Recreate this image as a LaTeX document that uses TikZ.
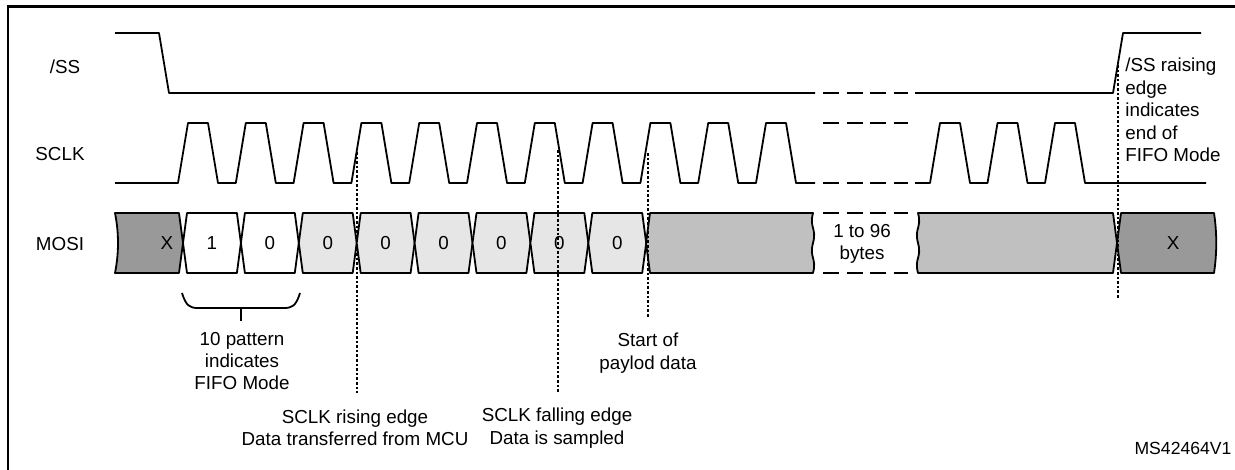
\documentclass[tikz,border=0pt]{standalone}
\usepackage{fontspec}
\setmainfont{Liberation Sans}
\usetikzlibrary{calc}
\definecolor{xgray}{HTML}{999999}
\definecolor{bitgray}{HTML}{E6E6E6}
\definecolor{datagray}{HTML}{C0C0C0}
\begin{document}
\begin{tikzpicture}[x=0.5pt,y=-0.5pt,
  sig/.style={line width=0.9pt,line join=round},
  gapline/.style={sig,dash pattern=on 8pt off 3.75pt},
  edgemark/.style={line width=1.3pt,dash pattern=on 1.3pt off 1pt},
  lbl/.style={font=\fontsize{9.4}{11.2}\selectfont,inner sep=0pt,align=center}]
\useasboundingbox (0,0) rectangle (1235,470);
\draw[line width=1.2pt] (8,470) -- (8,6.5) -- (1235,6.5);
% signal names
\node[lbl] (ss) at (65,67) {/SS};
\node[lbl] (sclk) at (60,154) {SCLK};
\node[lbl] (mosi) at (60,244) {MOSI};
% /SS
\draw[sig] (115,33) -- (159,33) -- (169,93) -- (815,93);
\draw[gapline] (823,93) -- (908,93);
\draw[sig] (915,93) -- (1113,93) -- (1123,33) -- (1201,33);
% SCLK
\draw[sig] (115,183) \foreach \k in {0,...,10} {
  -- ({178+57.8*\k},183) -- ({188+57.8*\k},123) -- ({208+57.8*\k},123) -- ({218+57.8*\k},183)} -- (815,183);
\draw[gapline] (823,123) -- (908,123);
\draw[gapline] (823,183) -- (908,183);
\draw[sig] (915,183) \foreach \b in {930,987.5,1045} {
  -- (\b,183) -- (\b+10,123) -- (\b+30,123) -- (\b+40,183)} -- (1206,183);
% MOSI
\filldraw[sig,fill=xgray] (115,273) .. controls (119,253) and (119,233) .. (115,213)
  -- (179,213) -- (183,243) -- (179,273) -- cycle;
\node[lbl] (xa) at (167,243) {X};
\foreach \k/\col/\v in {0/white/1,1/white/0,2/bitgray/0,3/bitgray/0,4/bitgray/0,5/bitgray/0,6/bitgray/0,7/bitgray/0} {
  \pgfmathsetmacro\ca{183+57.9*\k}
  \pgfmathsetmacro\cb{183+57.9*(\k+1)}
  \filldraw[sig,fill=\col] (\ca,243) -- (\ca+4,213) -- (\cb-4,213) -- (\cb,243) -- (\cb-4,273) -- (\ca+4,273) -- cycle;
  \node[lbl] (bit\k) at ({(\ca+\cb)/2},243) {\v};
}
\filldraw[sig,fill=datagray] (646,243) -- (650,213) -- (813,213)
  .. controls (809,228) and (817,228) .. (813,243) .. controls (809,258) and (817,258) .. (813,273)
  -- (650,273) -- cycle;
\draw[gapline] (823,213) -- (908,213);
\draw[gapline] (823,273) -- (908,273);
\node[lbl] (bytes) at (862,244) {1 to 96\\bytes};
\filldraw[sig,fill=datagray] (918,213) .. controls (922,228) and (914,228) .. (918,243)
  .. controls (922,258) and (914,258) .. (918,273) -- (1113,273) -- (1117,243) -- (1113,213) -- cycle;
\filldraw[sig,fill=xgray] (1117,243) -- (1121,213) -- (1214,213) .. controls (1217,233) and (1217,253) .. (1214,273)
  -- (1121,273) -- cycle;
\node[lbl] (xb) at (1173,243) {X};
% markers
\coordinate (rs top) at (357,152);
\coordinate (rs bot) at (357,393);
\coordinate (fs top) at (558,150);
\coordinate (fs bot) at (558,393);
\coordinate (pl top) at (648,153);
\coordinate (pl bot) at (648,318);
\coordinate (ssr top) at (1118,65);
\coordinate (ssr bot) at (1118,298);
\draw[edgemark] (rs top) -- (rs bot);
\draw[edgemark] (fs top) -- (fs bot);
\draw[edgemark] (pl top) -- (pl bot);
\draw[edgemark] (ssr top) -- (ssr bot);
% brace under the 10 pattern
\draw[sig] (182,293) .. controls (186,306) and (190,308) .. (198,308) -- (284,308)
  .. controls (292,308) and (296,306) .. (300,293);
\draw[sig] (241,308) -- (241,321);
% notes
\node[lbl] (fifo) at (242,361) {10 pattern\\indicates\\FIFO Mode};
\node[lbl] (payload) at (648,353) {Start of\\paylod data};
\node[lbl] (rising) at (355,428) {SCLK rising edge\\Data transferred from MCU};
\node[lbl] (falling) at (557,428) {SCLK falling edge\\Data is sampled};
\node[lbl,anchor=west,align=left] (ssend) at (1125,110) {/SS raising\\edge\\indicates\\end of\\FIFO Mode};
\node[lbl,font=\fontsize{8.8}{10}\selectfont] (ref) at (1183,448) {MS42464V1};
\end{tikzpicture}
\end{document}
